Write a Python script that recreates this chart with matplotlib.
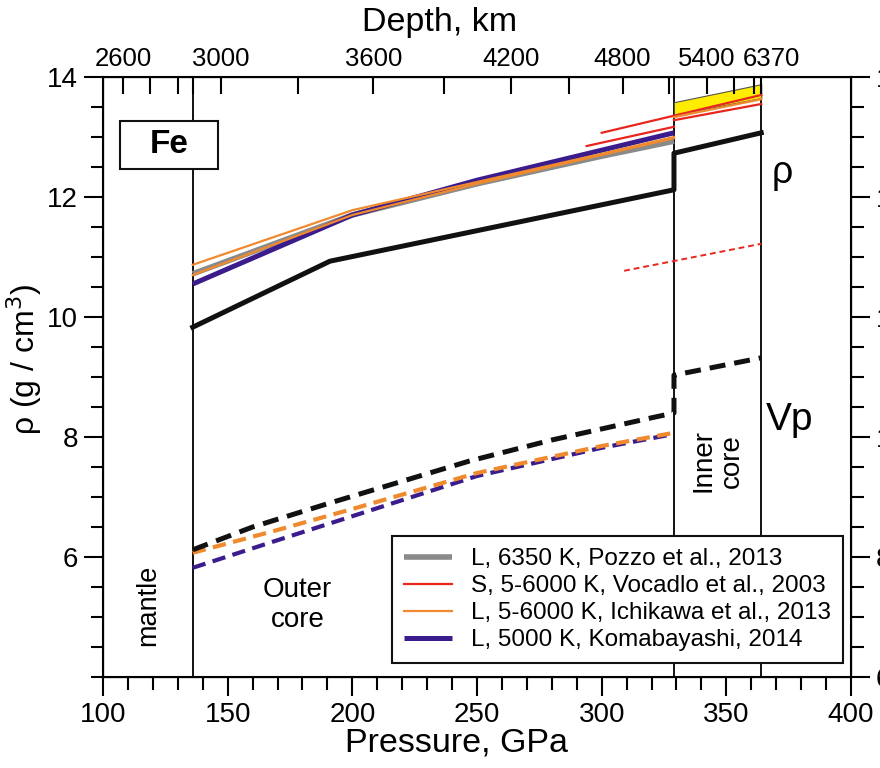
import numpy as np
import matplotlib.pyplot as plt
from matplotlib.patches import Rectangle
from matplotlib.transforms import ScaledTranslation

plt.rcParams['font.family'] = ['Liberation Sans', 'DejaVu Sans']

# boundaries (GPa)
p_cmb, p_icb, p_center = 136, 329, 364

# PREM-like reference density and Vp
prem_p = [136, 191, 329, 329, 364]
prem_rho = [9.83, 10.93, 12.12, 12.73, 13.07]
prem_vp_p = [136, 160, 191, 219, 247, 280, 320, 329, 329, 364]
prem_vp = [8.12, 8.50, 8.90, 9.25, 9.60, 9.95, 10.32, 10.40, 11.03, 11.32]

# liquid Fe densities (outer core)
oc_p = [136, 200, 250, 300, 329]
pozzo_rho = [10.72, 11.70, 12.22, 12.68, 12.93]
ichi_rho_a = [10.87, 11.78, 12.25, 12.72, 13.00]
ichi_rho_b = [10.70, 11.70, 12.22, 12.70, 12.98]
koma_rho = [10.55, 11.70, 12.28, 12.78, 13.07]

# solid Fe (Vocadlo)
voc_a_p, voc_a_rho = [300, 364], [13.07, 13.70]
voc_b_p, voc_b_rho = [294, 329], [12.85, 13.17]
voc_c_p, voc_c_rho = [329, 364], [13.28, 13.55]
voc_vp_p, voc_vp = [309, 364], [12.77, 13.22]
# solid Fe (Ichikawa, inner core)
ichi_ic_p, ichi_ic_rho = [329, 364], [13.33, 13.63]
# yellow band
band_p = [329, 364]
band_lo = [13.37, 13.65]
band_hi = [13.58, 13.88]

# Vp of liquid Fe
vp_p = [136, 170, 200, 250, 300, 329]
ichi_vp = [8.07, 8.45, 8.80, 9.40, 9.85, 10.07]
koma_vp = [7.82, 8.28, 8.68, 9.35, 9.82, 10.05]

# depth axis
depth_ticks_p = [108.0, 118.9, 130.1, 136.1, 147.4, 178.3, 208.4, 236.9, 263.5,
                 286.7, 308.4, 326.9, 342.2, 353.0, 361.0, 363.9]
depth_major_p = [108.0, 147.4, 208.4, 263.5, 308.4, 342.2, 363.9]
depth_major_lab = ['2600', '3000', '3600', '4200', '4800', '5400', '6370']

black = '#111111'
gray = '#8a8a8a'
red = '#e8261e'
orange = '#f08a2e'
purple = '#3b1c8c'
dash = (0, (3.2, 1.8))

fig = plt.figure(figsize=(8.8, 7.68), dpi=100)
ax = fig.add_axes([103/880, 1-677/768, 748/880, 600/768])
ax.set_xlim(100, 400)
ax.set_ylim(4, 14)

for xv in [p_cmb, p_icb, p_center]:
    ax.axvline(xv, color=black, lw=1.4, zorder=1)

ax.fill_between(band_p, band_lo, band_hi, facecolor='#ffec00',
                edgecolor='#555555', lw=0.8, zorder=2)

ax.plot(oc_p, pozzo_rho, color=gray, lw=4, zorder=3, solid_capstyle='butt',
        label='L, 6350 K, Pozzo et al., 2013')
ax.plot(voc_a_p, voc_a_rho, color=red, lw=1.6, zorder=4,
        label='S, 5-6000 K, Vocadlo et al., 2003')
ax.plot(voc_b_p, voc_b_rho, color=red, lw=1.6, zorder=4)
ax.plot(voc_c_p, voc_c_rho, color=red, lw=1.6, zorder=4)
ax.plot(oc_p, ichi_rho_a, color=orange, lw=1.6, zorder=4,
        label='L, 5-6000 K, Ichikawa et al., 2013')
ax.plot(oc_p, ichi_rho_b, color=orange, lw=1.6, zorder=4)
ax.plot(ichi_ic_p, ichi_ic_rho, color=orange, lw=1.6, zorder=4)
ax.plot(oc_p, koma_rho, color=purple, lw=3.6, zorder=3, solid_capstyle='butt',
        label='L, 5000 K, Komabayashi, 2014')
ax.plot(prem_p, prem_rho, color=black, lw=3.6, zorder=5)

ax.set_xticks(np.arange(100, 401, 50))
ax.set_xticks(np.arange(100, 401, 10), minor=True)
ax.set_yticks([6, 8, 10, 12, 14])
ax.set_yticks(np.arange(4, 14.01, 0.5), minor=True)
ax.tick_params(which='major', direction='out', length=14, width=1.5,
               labelsize=20, pad=4, top=False, right=False)
ax.tick_params(which='minor', direction='out', length=9, width=1.5,
               top=False, right=False)
for s in ax.spines.values():
    s.set_linewidth(1.5)
ax.set_xlabel('Pressure, GPa', fontsize=24.5, labelpad=0, x=0.473)
ax.set_ylabel('ρ (g / cm$^3$)', fontsize=23, labelpad=2, y=0.53)

ax.add_patch(Rectangle((106.8, 12.47), 39.4, 0.8, fc='white', ec=black,
                       lw=1.5, zorder=6))
ax.text(126.5, 12.87, 'Fe', fontsize=24, fontweight='bold', ha='center',
        va='center', zorder=7)
ax.text(118, 5.2, 'mantle', rotation=90, fontsize=19.5, ha='center', va='center')
ax.text(178, 5.2, 'Outer\ncore', fontsize=20, ha='center', va='center',
        linespacing=1.2)
ax.text(346.5, 7.6, 'Inner\ncore', rotation=90, fontsize=20, ha='center',
        va='center', linespacing=1.15)
ax.text(372.5, 12.4, 'ρ', fontsize=27, ha='center', va='center')
ax.text(375.5, 8.28, 'Vp', fontsize=28, ha='center', va='center')

leg = ax.legend(loc='lower right', bbox_to_anchor=(0.989, 0.023),
                borderaxespad=0, fontsize=17.5, frameon=True, fancybox=False,
                framealpha=1, edgecolor=black, handlelength=2.0,
                handletextpad=0.75, labelspacing=0.2, borderpad=0.5)
leg.get_frame().set_linewidth(1.5)
leg.set_zorder(10)

# Vp axis (right)
axv = ax.twinx()
axv.set_ylim(6, 16)
axv.plot(prem_vp_p, prem_vp, color=black, lw=3.6, ls=dash, zorder=5)
axv.plot(vp_p, ichi_vp, color=orange, lw=3, ls=dash, zorder=4)
axv.plot(vp_p, koma_vp, color=purple, lw=3, ls=dash, zorder=3)
axv.plot(voc_vp_p, voc_vp, color=red, lw=1.4, ls=(0, (3, 2)), zorder=4)
axv.set_yticks([6, 8, 10, 12, 14, 16])
axv.set_yticks(np.arange(6, 16.01, 0.5), minor=True)
axv.tick_params(which='major', direction='out', length=14, width=1.5,
                labelsize=20, pad=4)
axv.tick_params(which='minor', direction='out', length=9, width=1.5)

# depth axis (top)
axd = ax.twiny()
axd.set_xlim(100, 400)
axd.set_xticks(depth_major_p)
axd.set_xticklabels(depth_major_lab)
axd.set_xticks(depth_ticks_p, minor=True)
axd.tick_params(which='both', direction='in', length=12, width=1.5,
                labelsize=18.5, pad=4)
axd.set_xlabel('Depth, km', fontsize=24.5, labelpad=12, x=0.45)
lab = axd.get_xticklabels()[-1]
lab.set_transform(lab.get_transform() + ScaledTranslation(0.1, 0, fig.dpi_scale_trans))

fig.savefig('out.png', dpi=100)
